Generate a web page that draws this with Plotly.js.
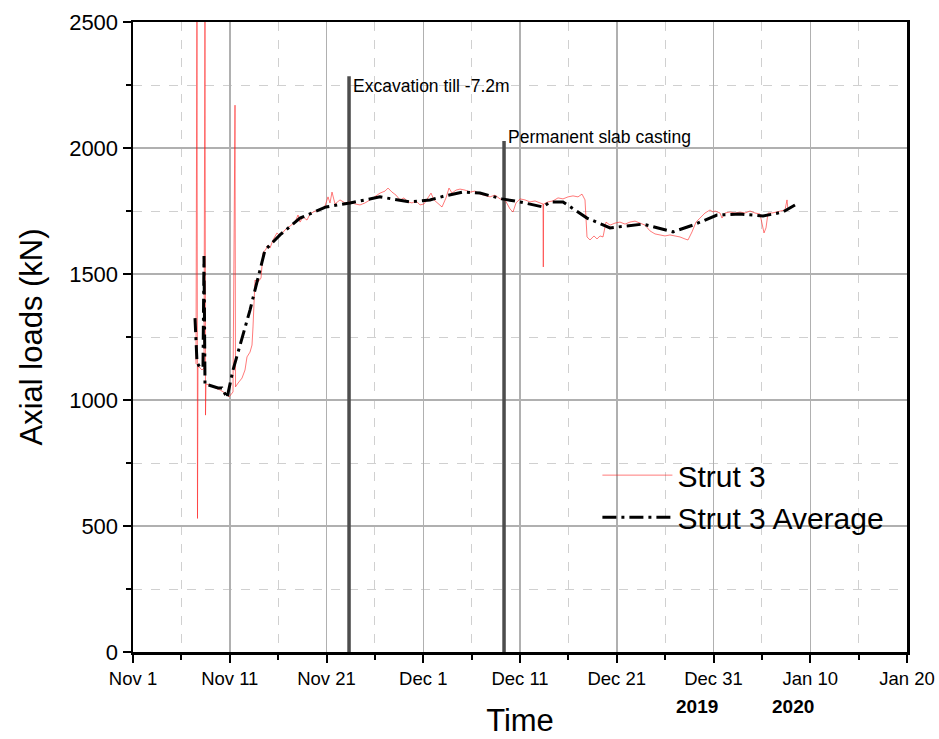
<!DOCTYPE html>
<html><head><meta charset="utf-8">
<script src="https://cdn.plot.ly/plotly-3.0.1.min.js"></script>
<style>html,body{margin:0;padding:0;background:#fff}#chart{width:939px;height:739px}</style>
</head><body><div id="chart"></div>
<script>
// Day offsets are measured from 2019-11-01 00:00
const startDate = Date.UTC(2019, 10, 1);
const rawDays = [6.51,6.615,6.667,6.718,6.925,7.132,7.339,7.442,7.494,7.545,7.959,8.476,8.992,9.509,9.922,10.336,10.543,10.594,10.853,11.266,11.576,11.783,12.093,12.300,12.403,12.507,12.610,12.920,13.230,13.437,13.747,13.953,14.160,14.470,14.884,15.194,15.711,16.227,16.744,17.054,17.261,17.571,17.984,18.295,18.811,19.328,19.845,20.155,20.362,20.569,20.879,21.395,21.912,22.429,22.946,23.463,23.979,24.496,25.013,25.530,26.047,26.357,26.770,27.184,27.597,28.010,28.424,28.837,29.251,29.664,30.078,30.491,30.801,31.111,31.525,31.938,32.351,32.661,32.972,33.385,33.798,34.315,34.832,35.349,35.866,36.382,36.899,37.416,37.933,38.450,38.966,39.276,39.587,40.000,40.517,41.034,41.550,42.067,42.377,42.408,42.439,42.894,43.411,43.928,44.444,44.961,45.478,45.995,46.408,46.718,46.925,47.235,47.649,47.959,48.269,48.579,48.889,49.303,49.819,50.336,50.853,51.370,51.886,52.403,52.920,53.437,53.953,54.470,54.987,55.504,56.021,56.537,57.054,57.364,57.778,58.191,58.605,59.121,59.638,59.948,60.155,60.672,60.878,61.188,61.705,62.222,62.739,63.256,63.773,64.289,64.806,65.013,65.220,65.426,65.633,66.047,66.563,67.080,67.390,67.597,67.700,68.114,68.424];
const rawLoad = [1143,2700,530,1139,1127,1119,1127,2700,940,1063,1060,1048,1040,1028,1012,1032,2170,1052,1067,1087,1119,1171,1190,1218,1290,1437,1476,1468,1484,1583,1599,1615,1603,1635,1663,1651,1675,1690,1706,1734,1706,1726,1714,1738,1750,1754,1770,1806,1782,1825,1778,1794,1782,1786,1778,1774,1782,1794,1806,1821,1829,1841,1825,1813,1794,1802,1786,1782,1790,1774,1778,1802,1821,1794,1778,1766,1802,1841,1821,1833,1837,1833,1825,1829,1817,1810,1806,1813,1798,1794,1758,1746,1782,1798,1794,1786,1790,1782,1778,1528,1778,1786,1790,1802,1798,1806,1810,1806,1817,1794,1647,1635,1651,1639,1651,1647,1706,1694,1702,1706,1698,1706,1710,1702,1694,1671,1659,1655,1651,1655,1651,1647,1639,1635,1667,1706,1722,1742,1754,1746,1750,1742,1722,1742,1746,1742,1746,1742,1750,1742,1738,1706,1663,1683,1742,1742,1746,1750,1754,1794,1754,1766,1774];
const avgDays = [6.408,6.615,6.925,7.235,7.339,7.442,7.752,8.372,8.785,9.199,9.716,10.336,12.093,13.643,15.194,17.261,19.948,22.429,25.530,28.630,30.698,32.248,34.108,35.866,38.140,40.000,42.377,43.101,44.444,46.925,49.303,52.713,55.814,57.881,60.362,62.739,65.116,67.183,68.424];
const avgLoad = [1325,1151,1127,1131,1571,1060,1060,1052,1048,1048,1008,1119,1357,1595,1655,1722,1766,1782,1806,1786,1794,1810,1825,1821,1798,1786,1766,1786,1786,1722,1683,1698,1667,1694,1734,1738,1730,1746,1774];
const eventDays = [22.33, 38.35];
const eventHeights = [2285, 2028];
const eventLabels = ["Excavation till -7.2m", "Permanent slab casting"];
const eventLabelLoads = [2248, 2045];
const tickDates = ["2019-11-01","2019-11-11","2019-11-21","2019-12-01","2019-12-11","2019-12-21","2019-12-31","2020-01-10","2020-01-20"];
const tickLabels = ["Nov 1","Nov 11","Nov 21","Dec 1","Dec 11","Dec 21","Dec 31","Jan 10","Jan 20"];
const yearLabels = ["2019","2020"];
const yearDates = ["2019-12-29 08:00","2020-01-08 06:00"];

const toDate = d => new Date(startDate + d * 86400000).toISOString().replace('T',' ').slice(0,19);
const FONT = 'Liberation Sans, Arial, sans-serif';

const traces = [];
eventDays.forEach((d, i) => {
  traces.push({x:[toDate(d), toDate(d)], y:[0, eventHeights[i]], mode:'lines', line:{color:'#4d4d4d', width:3.5}, showlegend:false, hoverinfo:'skip'});
});
traces.push({x: rawDays.map(toDate), y: rawLoad, mode:'lines', name:'Strut 3', line:{color:'rgba(255,30,30,0.85)', width:0.7}});
traces.push({x: avgDays.map(toDate), y: avgLoad, mode:'lines', name:'Strut 3 Average', line:{color:'#000', width:3, dash:'14px,5px,3px,5px'}});

const annotations = eventLabels.map((t, i) => ({
  x: toDate(eventDays[i] + 0.25), y: eventLabelLoads[i], xref:'x', yref:'y', text:t, showarrow:false,
  xanchor:'left', yanchor:'middle', font:{size: 17.5, color:'#000', family:FONT}
}));
yearLabels.forEach((t, i) => annotations.push({x: yearDates[i], y: -0.086, xref:'x', yref:'paper', text:'<b>'+t+'</b>', showarrow:false, xanchor:'center', yanchor:'middle', font:{size:19, color:'#000', family:FONT}}));

const layout = {
  width:939, height:739,
  margin:{l:133, r:32, t:22, b:87},
  paper_bgcolor:'#fff', plot_bgcolor:'#fff',
  font:{family:FONT, color:'#000'},
  showlegend:true,
  legend:{x:0.6, y:0.322, xanchor:'left', yanchor:'top', bgcolor:'rgba(0,0,0,0)', font:{size:30}, tracegroupgap:0, itemwidth:70},
  xaxis:{
    type:'date', range:['2019-11-01','2020-01-20'],
    tickmode:'array', tickvals:tickDates, ticktext:tickLabels,
    tickfont:{size:18.5}, ticks:'outside', ticklen:8, tickwidth:2, tickcolor:'#000',
    showline:true, linecolor:'#000', linewidth:2.5, mirror:true,
    showgrid:true, gridcolor:'#b0b0b0', gridwidth:1.5, zeroline:false,
    minor:{dtick:5*86400000, tick0:'2019-11-01', ticks:'outside', ticklen:5, tickwidth:2, tickcolor:'#000', showgrid:true, gridcolor:'#d0d0d0', griddash:'dash', gridwidth:1},
    title:{text:'Time', font:{size:31}, standoff:22}
  },
  yaxis:{
    range:[0,2500], tickmode:'linear', tick0:0, dtick:500,
    tickfont:{size:22}, ticks:'outside', ticklen:8, tickwidth:2, tickcolor:'#000',
    showline:true, linecolor:'#000', linewidth:2.5, mirror:true,
    showgrid:true, gridcolor:'#b0b0b0', gridwidth:1.5, zeroline:false,
    minor:{dtick:250, ticks:'outside', ticklen:5, tickwidth:2, tickcolor:'#000', showgrid:true, gridcolor:'#d0d0d0', griddash:'dash', gridwidth:1},
    title:{text:'Axial loads (kN)', font:{size:31}, standoff:18}
  },
  annotations: annotations
};
Plotly.newPlot('chart', traces, layout, {displayModeBar:false, staticPlot:true});
</script></body></html>
